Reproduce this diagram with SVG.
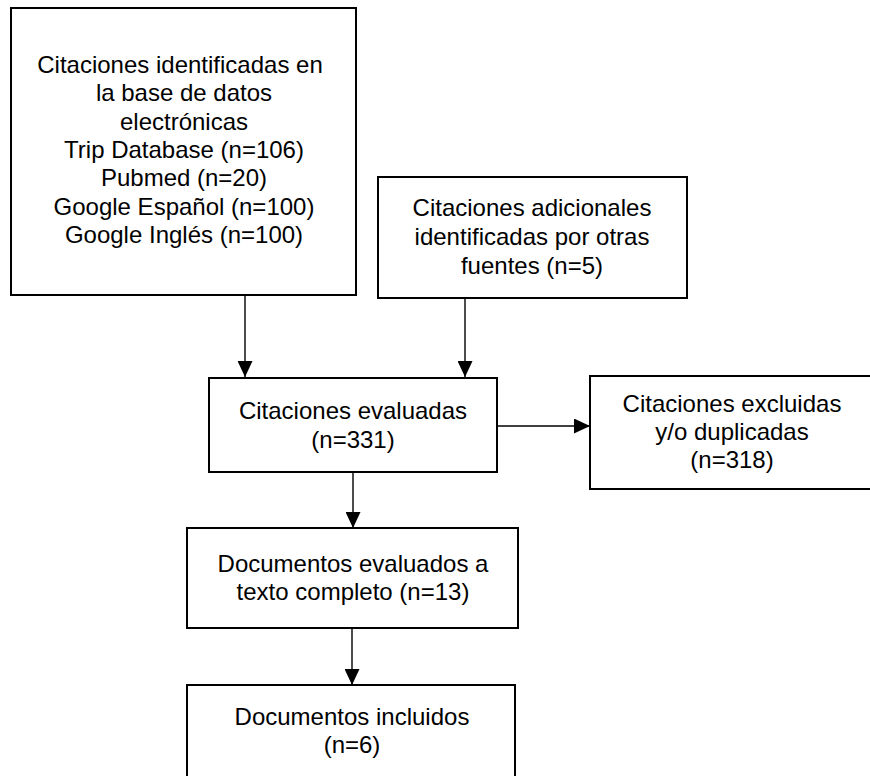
<svg xmlns="http://www.w3.org/2000/svg" width="870" height="776" viewBox="0 0 870 776">
<defs>
<style>
.box{fill:#fff;stroke:#000;stroke-width:2}
.lbl{font-family:"Liberation Sans",Arial,sans-serif;font-size:24px;fill:#000;text-anchor:middle}
.conn{stroke:#000;stroke-width:1.4;fill:none}
</style>
<marker id="arr" viewBox="0 0 16 15" refX="16" refY="7.5" markerWidth="16" markerHeight="15" markerUnits="userSpaceOnUse" orient="auto">
<path d="M0,0 L16,7.5 L0,15 Z" fill="#000"/>
</marker>
</defs>
<rect width="870" height="776" fill="#fff"/>
<g id="connectors">
<line class="conn" x1="245" y1="296" x2="245" y2="377" marker-end="url(#arr)"/>
<line class="conn" x1="465" y1="298" x2="465" y2="377" marker-end="url(#arr)"/>
<line class="conn" x1="497" y1="426" x2="590" y2="426" marker-end="url(#arr)"/>
<line class="conn" x1="353" y1="472" x2="353" y2="528" marker-end="url(#arr)"/>
<line class="conn" x1="352" y1="628" x2="352" y2="685" marker-end="url(#arr)"/>
</g>
<g id="n1">
<rect class="box" x="11" y="8" width="345" height="287"/>
<text class="lbl"><tspan x="180" y="73">Citaciones identificadas en</tspan><tspan x="184" y="101">la base de datos</tspan><tspan x="184" y="129.5">electrónicas</tspan><tspan x="184" y="158">Trip Database (n=106)</tspan><tspan x="184" y="186">Pubmed (n=20)</tspan><tspan x="184" y="214.5">Google Español (n=100)</tspan><tspan x="184" y="243">Google Inglés (n=100)</tspan></text>
</g>
<g id="n2">
<rect class="box" x="378" y="177" width="309" height="121"/>
<text class="lbl"><tspan x="532" y="216">Citaciones adicionales</tspan><tspan x="532" y="245">identificadas por otras</tspan><tspan x="532" y="274">fuentes (n=5)</tspan></text>
</g>
<g id="n3">
<rect class="box" x="209" y="378" width="288" height="94"/>
<text class="lbl"><tspan x="353" y="419">Citaciones evaluadas</tspan><tspan x="353" y="448">(n=331)</tspan></text>
</g>
<g id="n4">
<rect class="box" x="590" y="376" width="300" height="113"/>
<text class="lbl"><tspan x="732" y="412">Citaciones excluidas</tspan><tspan x="732" y="440">y/o duplicadas</tspan><tspan x="732" y="468">(n=318)</tspan></text>
</g>
<g id="n5">
<rect class="box" x="187" y="528" width="331" height="100"/>
<text class="lbl"><tspan x="353" y="572">Documentos evaluados a</tspan><tspan x="353" y="600">texto completo (n=13)</tspan></text>
</g>
<g id="n6">
<rect class="box" x="187" y="685" width="328" height="110"/>
<text class="lbl"><tspan x="352" y="725">Documentos incluidos</tspan><tspan x="352" y="753">(n=6)</tspan></text>
</g>
</svg>
